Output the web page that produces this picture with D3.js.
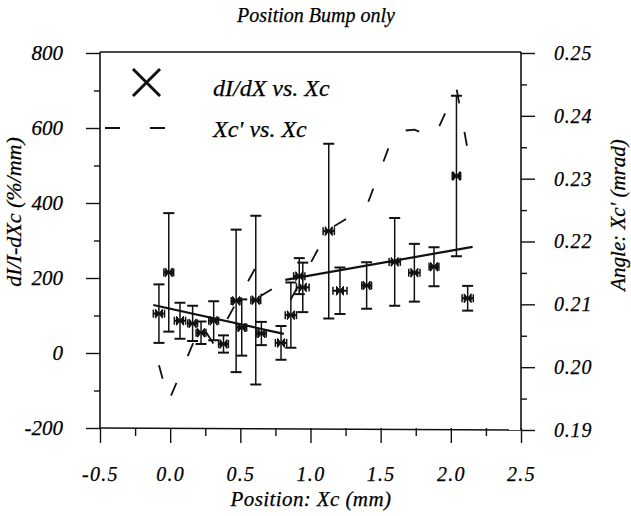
<!DOCTYPE html>
<html><head><meta charset="utf-8">
<script src="https://cdn.jsdelivr.net/npm/d3@7"></script>
<style>
html,body{margin:0;padding:0;background:#fff;}
svg text{font-family:"Liberation Serif","Times New Roman",serif;font-style:italic;fill:#000;stroke:#000;stroke-width:0.25px;}
</style></head>
<body><svg id="c" width="631" height="516"></svg>
<script>
// ---- data ----
const xc     = [-0.08,-0.01,0.07,0.16,0.22,0.31,0.38,0.47,0.51,0.61,0.65,0.79,0.86,0.92,0.945,1.13,1.21,1.40,1.60,1.74,1.88,2.04,2.12];
const dIdX   = [105,215,86,79,54,86,24,139,68,141,52,27,101,205,175,325,166,180,243,214,230,472,146];
const errY   = [78,158,48,47,30,52,23,190,75,225,31,45,87,48,66,233,62,62,117,77,52,214,33];
const errX   = [0.04,0.035,0.04,0.035,0.035,0.035,0.035,0.035,0.035,0.035,0.035,0.04,0.04,0.04,0.045,0.04,0.05,0.035,0.04,0.04,0.035,0.03,0.04];
const fitAx  = [-0.12,0.81];
const fitAy  = [128,51];
const fitBx  = [0.82,2.155];
const fitBy  = [195,283];
const xcP    = [-0.08,-0.01,0.22,0.31,0.61,0.65,0.79,0.86,1.13,1.40,1.60,1.74,1.88,2.04,2.12];
const angle  = [0.2003,0.1946,0.2068,0.2037,0.2159,0.2114,0.2133,0.2108,0.2219,0.2256,0.2375,0.2378,0.2365,0.2444,0.2346];
const xTicks = [-0.5,0,0.5,1.0,1.5,2.0,2.5];
const yTicks = [-200,0,200,400,600,800];
const rTicks = [0.19,0.20,0.21,0.22,0.23,0.24,0.25];
const title  = "Position Bump only";
const xTitle = "Position: Xc (mm)";
const yTitle = "dI/I-dXc (%/mm)";
const rTitle = "Angle: Xc' (mrad)";
const legendLabels = ["dI/dX vs. Xc","Xc' vs. Xc"];

// ---- chart ----
const svg = d3.select("#c");
const L=100,R=521,T=52,B=428;
const x  = d3.scaleLinear().domain([-0.5,2.5]).range([L,R]);
const y  = d3.scaleLinear().domain([-200,800]).range([B,T+1]);
const yr = d3.scaleLinear().domain([0.19,0.25]).range([B+2,T+1]);
const hy = f => d => f(d).replace("\u2212","-");

svg.append("rect").attr("width",631).attr("height",516).attr("fill","#fff");

// frame
const frame = svg.append("g").attr("stroke","#111").attr("stroke-width",1.6).attr("fill","none");
frame.append("line").attr("x1",L).attr("x2",R).attr("y1",T).attr("y2",T);
frame.append("line").attr("x1",L).attr("x2",R).attr("y1",B).attr("y2",B+2);
frame.append("line").attr("x1",L).attr("x2",L).attr("y1",T).attr("y2",B);
frame.append("line").attr("x1",R).attr("x2",R).attr("y1",T).attr("y2",B+2);

function styleAxis(g){ g.select(".domain").remove(); g.selectAll("line").attr("stroke","#111").attr("stroke-width",1.4); }

// left axis
svg.append("g").attr("transform",`translate(${L},0)`)
  .call(d3.axisLeft(y).tickValues(d3.range(-100,800,200)).tickSize(6).tickFormat(""))
  .call(styleAxis);
svg.append("g").attr("transform",`translate(${L},0)`)
  .call(d3.axisLeft(y).tickValues(yTicks).tickSize(14).tickPadding(23).tickFormat(hy(d3.format("d"))))
  .call(styleAxis)
  .selectAll("text").attr("font-size",21);

// bottom axis
svg.append("g").attr("transform",`translate(0,${B})`)
  .call(d3.axisBottom(x).tickValues(d3.range(-0.25,2.5,0.5)).tickSize(8).tickFormat(""))
  .call(styleAxis);
svg.append("g").attr("transform",`translate(0,${B})`)
  .call(d3.axisBottom(x).tickValues(xTicks).tickSize(15).tickPadding(24).tickFormat(hy(d3.format(".1f"))))
  .call(styleAxis)
  .selectAll("text").attr("font-size",20).attr("letter-spacing",1.3);

// right axis
svg.append("g").attr("transform",`translate(${R},0)`)
  .call(d3.axisRight(yr).tickValues(d3.range(0.195,0.25,0.01)).tickSize(6).tickFormat(""))
  .call(styleAxis);
svg.append("g").attr("transform",`translate(${R},0)`)
  .call(d3.axisRight(yr).tickValues(rTicks).tickSize(14).tickPadding(19).tickFormat(d3.format(".2f")))
  .call(styleAxis)
  .selectAll("text").attr("font-size",20).attr("letter-spacing",0.8);

// titles
svg.append("text").attr("x",316).attr("y",22).attr("text-anchor","middle").attr("font-size",20).text(title);
svg.append("text").attr("x",311).attr("y",506).attr("text-anchor","middle").attr("font-size",21).attr("letter-spacing",0.4).text(xTitle);
svg.append("text").attr("transform","translate(21,212) rotate(-90)").attr("text-anchor","middle").attr("font-size",22).text(yTitle);
svg.append("text").attr("transform","translate(625,215) rotate(-90)").attr("text-anchor","middle").attr("font-size",21).text(rTitle);

// dashed Xc' line
const line = d3.line().x(d=>x(d[0])).y(d=>yr(d[1]));
svg.append("path").datum(xcP.map((v,i)=>[v,angle[i]]))
  .attr("d",line).attr("fill","none").attr("stroke","#111").attr("stroke-width",1.8)
  .attr("stroke-dasharray","14,29");

// error bars
const pts = xc.map((v,i)=>({x:v,y:dIdX[i],ey:errY[i],ex:errX[i]}));
const eb = svg.append("g").attr("stroke","#111").attr("stroke-width",1.5);
pts.forEach(p=>{
  const cx=x(p.x), cy=y(p.y), y1=y(p.y+p.ey), y2=y(p.y-p.ey);
  const x1=x(p.x-p.ex), x2=x(p.x+p.ex);
  eb.append("line").attr("x1",cx).attr("x2",cx).attr("y1",y1).attr("y2",y2);
  eb.append("line").attr("x1",cx-5.5).attr("x2",cx+5.5).attr("y1",y1).attr("y2",y1).attr("stroke-width",2);
  eb.append("line").attr("x1",cx-5.5).attr("x2",cx+5.5).attr("y1",y2).attr("y2",y2).attr("stroke-width",2);
  eb.append("line").attr("x1",x1).attr("x2",x2).attr("y1",cy).attr("y2",cy).attr("stroke-width",2);
  eb.append("line").attr("x1",x1).attr("x2",x1).attr("y1",cy-4).attr("y2",cy+4);
  eb.append("line").attr("x1",x2).attr("x2",x2).attr("y1",cy-4).attr("y2",cy+4);
  eb.append("path").attr("d",`M${cx-3.5},${cy-4.5}L${cx+3.5},${cy+4.5}L${cx+3.5},${cy-4.5}L${cx-3.5},${cy+4.5}Z`)
    .attr("fill","#111").attr("stroke-width",1);
});

// fit lines
[[fitAx,fitAy],[fitBx,fitBy]].forEach(([fx,fy])=>{
  svg.append("line").attr("x1",x(fx[0])).attr("x2",x(fx[1])).attr("y1",y(fy[0])).attr("y2",y(fy[1]))
    .attr("stroke","#111").attr("stroke-width",2.2);
});

// legend
const lg = svg.append("g");
lg.append("path").attr("d","M133,69L160,96M160,69L133,96").attr("stroke","#111").attr("stroke-width",3).attr("fill","none");
lg.append("text").attr("x",213).attr("y",96).attr("font-size",24).text(legendLabels[0]);
lg.append("line").attr("x1",105).attr("x2",170).attr("y1",128).attr("y2",128)
  .attr("stroke","#111").attr("stroke-width",1.8).attr("stroke-dasharray","15,30");
lg.append("text").attr("x",213).attr("y",137).attr("font-size",24).text(legendLabels[1]);
</script></body></html>
